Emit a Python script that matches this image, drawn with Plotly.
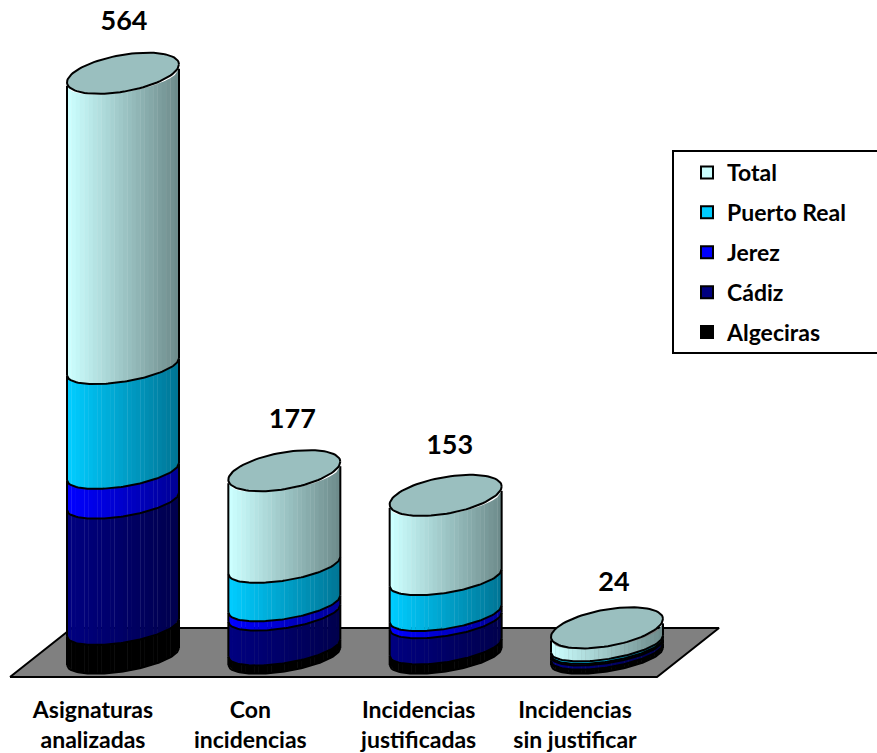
import numpy as np
import plotly.graph_objects as go

categories = ["Asignaturas<br>analizadas", "Con<br>incidencias", "Incidencias<br>justificadas", "Incidencias<br>sin justificar"]
total = [564, 177, 153, 24]
puerto_real = [204, 75, 70, 5]
jerez = [58, 18, 14, 3]
cadiz = [246, 68, 51, 8]
algeciras = [56, 16, 18, 8]
point_labels = ["564", "177", "153", "24"]

# Colours: name, left (lit) colour, right (shaded) colour; bottom of stack first
STYLE = [
    ("Algeciras", algeciras, (0, 0, 0), (0, 0, 0)),
    ("Cádiz", cadiz, (0, 0, 128), (0, 0, 77)),
    ("Jerez", jerez, (0, 0, 255), (0, 0, 150)),
    ("Puerto Real", puerto_real, (0, 204, 255), (0, 118, 150)),
    ("Total", total, (204, 255, 255), (110, 140, 140)),
]
TOP_COLOUR = "#9ABFBF"
FONT = "Lato"

W, H = 877, 753
PLOT_BOTTOM = 694
X0_PX, X_STEP = 123.0, 161.33
Y0_PX, Y_SCALE = 652.5, 0.5135
x_range = [-X0_PX / X_STEP, (W - X0_PX) / X_STEP]
y_range = [(Y0_PX - PLOT_BOTTOM) / Y_SCALE, Y0_PX / Y_SCALE]


def xpx(p):
    return (p - X0_PX) / X_STEP


def ypx(p):
    return (Y0_PX - p) / Y_SCALE


# Cylinder proportions, converted to axis units
A = 56 / X_STEP
TOP_B, TOP_K = 18.5 / Y_SCALE, 9 / Y_SCALE
ARC_B, ARC_K, ARC_SHIFT = 15 / Y_SCALE, 8.5 / Y_SCALE, 4 / Y_SCALE
N_STRIP = 26


def arc(u, level):
    """Front edge of a slice boundary at stacked value `level`; u runs -1..1."""
    return level - ARC_SHIFT + ARC_K * u - ARC_B * np.sqrt(np.clip(1 - u * u, 0, 1))


fig = go.Figure()

# Floor
floor_x = [xpx(p) for p in (10, 657, 719, 72, 10)]
floor_y = [ypx(p) for p in (677, 677, 628, 628, 677)]
fig.add_trace(go.Scatter(x=floor_x, y=floor_y, mode="lines", fill="toself", fillcolor="#808080",
                         line=dict(color="black", width=2), showlegend=False, hoverinfo="skip"))

edges = np.linspace(-1, 1, N_STRIP + 1)
fine = np.linspace(-1, 1, 61)
base = np.zeros(4)
for name, values, c0, c1 in STYLE:
    values = np.array(values, float)
    top = base + values
    for j in range(N_STRIP):
        t = j / (N_STRIP - 1)
        col = "rgb(%d,%d,%d)" % tuple(round(a + (b - a) * t) for a, b in zip(c0, c1))
        xs, ys = [], []
        for i in range(4):
            u1, u2 = edges[j], edges[j + 1] + (0.006 if j < N_STRIP - 1 else 0)
            xs += [i + A * u1, i + A * u2, i + A * u2, i + A * u1, i + A * u1, None]
            ys += [arc(u1, top[i]), arc(u2, top[i]), arc(u2, base[i]), arc(u1, base[i]), arc(u1, top[i]), None]
        fig.add_trace(go.Scatter(x=xs, y=ys, mode="lines", fill="toself", fillcolor=col,
                                 line=dict(width=0), showlegend=False, hoverinfo="skip"))
    base = top

# Outlines of slices
base = np.zeros(4)
for name, values, c0, c1 in STYLE:
    values = np.array(values, float)
    top = base + values
    xs, ys = [], []
    for i in range(4):
        xs += list(i + A * fine) + [None]
        ys += list(arc(fine, base[i])) + [None]
        for u in (-1.0, 1.0):
            xs += [i + A * u, i + A * u, None]
            ys += [float(arc(np.array(u), base[i])), float(arc(np.array(u), top[i])), None]
    fig.add_trace(go.Scatter(x=xs, y=ys, mode="lines", line=dict(color="black", width=2),
                             showlegend=False, hoverinfo="skip"))
    base = top

# Top caps
theta = np.linspace(0, 2 * np.pi, 90)
cx, cy = [], []
for i in range(4):
    cx += list(i + A * np.cos(theta)) + [None]
    cy += list(base[i] + TOP_K * np.cos(theta) + TOP_B * np.sin(theta)) + [None]
fig.add_trace(go.Scatter(x=cx, y=cy, mode="lines", fill="toself", fillcolor=TOP_COLOUR,
                         line=dict(color="black", width=2), showlegend=False, hoverinfo="skip"))

# Value labels
lab_dx = [1 / X_STEP, 8 / X_STEP, 4 / X_STEP, 7 / X_STEP]
lab_lift = [50 / Y_SCALE, 49 / Y_SCALE, 48 / Y_SCALE, 44 / Y_SCALE]
fig.add_trace(go.Scatter(x=[i + d for i, d in enumerate(lab_dx)],
                         y=[b + l for b, l in zip(base, lab_lift)],
                         mode="text", text=point_labels, textposition="middle center",
                         textfont=dict(family=FONT, size=27, color="black", weight="bold"),
                         showlegend=False, hoverinfo="skip", cliponaxis=False))

# Legend entries (Total first)
for k, (name, values, c0, c1) in enumerate(reversed(STYLE)):
    fig.add_trace(go.Scatter(x=[None], y=[None], mode="markers", name=name, legendgroup=name,
                             marker=dict(symbol="square", size=12, color="rgb(%d,%d,%d)" % c0,
                                         line=dict(color="black", width=2))))

tick_shift_px = [-30, -34, -27, -32]
fig.update_layout(
    width=W, height=H, autosize=False,
    margin=dict(l=0, r=0, t=0, b=H - PLOT_BOTTOM, pad=0, autoexpand=False),
    paper_bgcolor="white", plot_bgcolor="white",
    showlegend=True,
    # Legend frame runs off the right edge of the page, as in the reference
    shapes=[dict(type="rect", xref="paper", yref="paper",
                 x0=673 / W, x1=1.02, y0=1 - 353 / PLOT_BOTTOM, y1=1 - 151 / PLOT_BOTTOM,
                 line=dict(color="black", width=2), fillcolor="white", layer="above")],
    legend=dict(x=673 / W, xanchor="left", y=1 - 151 / PLOT_BOTTOM, yanchor="top",
                bgcolor="rgba(0,0,0,0)", borderwidth=0,
                font=dict(family=FONT, size=23, color="black", weight="bold"),
                tracegroupgap=7, indentation=14,
                itemclick=False, itemdoubleclick=False),
    xaxis=dict(range=x_range, showgrid=False, zeroline=False, showline=False,
               tickmode="array", tickvals=[i + s / X_STEP for i, s in enumerate(tick_shift_px)], ticktext=categories,
               ticks="", tickangle=0,
               tickfont=dict(family=FONT, size=23, color="black", weight="bold")),
    yaxis=dict(range=y_range, showgrid=False, zeroline=False, showline=False, showticklabels=False, ticks=""),
)
fig.write_html("out.html", config={"displayModeBar": False},
               post_script="document.body.style.margin='0';document.body.style.overflow='hidden';")
